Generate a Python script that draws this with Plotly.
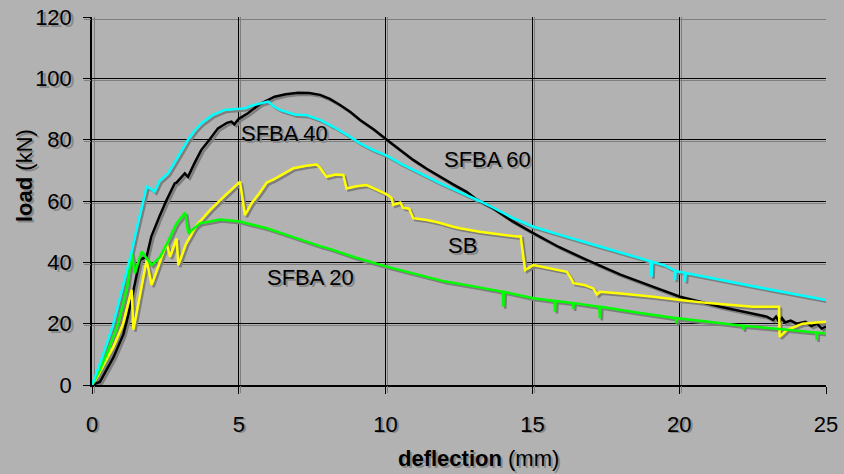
import plotly.graph_objects as go

# ---------------- data ----------------
sfba40_x = [0, 0.27, 0.73, 1.0, 1.35, 1.5, 1.7, 1.86, 2.0, 2.13, 2.3, 2.59, 2.9, 3.27, 3.5, 3.72, 4.1, 4.52,
            4.8, 5.2, 5.5, 6.0, 6.2, 6.4, 6.9, 7.31, 7.8, 8.22, 8.7, 9.13, 9.6, 10.04, 10.5, 10.94, 11.4,
            11.85, 12.3, 12.76, 13.2, 13.67, 14.3, 15.03, 15.5, 16.0, 17.0, 18.0, 19.0, 19.06, 19.08, 19.5,
            19.84, 19.86, 19.88, 20.18, 20.2, 20.22, 21.0, 22.0, 23.0, 24.0, 25.0]
sfba40_y = [0, 7, 20, 30, 43.5, 50, 58, 64.7, 64, 63, 66.5, 69, 74, 80, 83, 85.3, 88, 89.7,
            89.9, 90.2, 91.3, 92.4, 90.8, 89.7, 88.2, 88, 86.3, 84.2, 81.5, 78.8, 76.5, 74.8, 72.3, 70.1, 68,
            65.8, 63.9, 62, 60, 57.8, 54.6, 51.6, 50.2, 48.8, 46, 43.2, 40.4, 35.3, 40.2, 39.0,
            37.4, 34.2, 37.2, 36.6, 33.7, 36.5, 35.0, 33.2, 31.3, 29.5, 27.7]

sfba60_x = [0, 0.27, 0.73, 1.07, 1.24, 1.41, 1.63, 1.86, 2.02, 2.3, 2.54, 2.82, 2.88, 3.16, 3.27, 3.5,
            3.72, 4.0, 4.29, 4.6, 4.75, 4.85, 5.0, 5.31, 5.7, 6.22, 6.6, 7.02, 7.4, 7.77, 8.1, 8.45, 8.8,
            9.13, 9.6, 10.04, 10.5, 10.94, 11.4, 11.85, 12.3, 12.76, 13.1, 13.67, 14.3, 15.03, 15.9, 16.85,
            18.0, 19.12, 20.03, 21.4, 22.5, 22.98, 23.2, 23.3, 23.4, 23.5, 23.6, 23.8, 24.0, 24.3, 24.5,
            24.7, 24.85, 25.0]
sfba60_y = [0, 1, 9, 16.5, 23, 31, 40.8, 41.8, 48.4, 55, 60.3, 65.8, 66, 69, 67.9, 72.5,
            76.6, 80, 83.7, 85.5, 85.9, 85, 86.8, 88.6, 91.5, 94, 94.8, 95.3, 95.2, 94.6, 93.3, 91.3, 89,
            86.4, 83.3, 80, 76.5, 73.4, 70.5, 67.9, 65.4, 63, 60.5, 57.6, 53.5, 49.5, 45, 40.8,
            36, 32, 28.8, 25.5, 23.3, 22.3, 21.2, 22.3, 20.6, 21.8, 20.4, 21.0, 20.0, 20.6, 19.2,
            20.0, 18.4, 19.0]

sb_x = [0, 0.2, 0.45, 0.73, 1.06, 1.2, 1.35, 1.41, 1.6, 1.86, 2.03, 2.3, 2.54, 2.66, 2.88, 2.94, 3.2, 3.57,
        4.02, 4.5, 5.04, 5.21, 5.43, 5.7, 5.95, 6.22, 6.86, 7.3, 7.65, 7.75, 7.99, 8.3, 8.56, 8.67, 9.0,
        9.35, 9.7, 10.04, 10.2, 10.26, 10.5, 10.6, 10.8, 10.94, 11.4, 11.8, 12.3, 12.53, 13.2, 13.8, 14.47,
        14.6, 14.75, 15.03, 15.5, 16.17, 16.3, 16.4, 16.8, 17.07, 17.2, 17.3, 18.0, 19.12, 20.03, 21.0,
        22.5, 23.4, 23.42, 23.66, 24.2, 25.0]
sb_y = [0, 3, 7.5, 12.5, 20, 25, 31, 18, 28, 40.8, 32.6, 40, 46.2, 41.8, 47.8, 39.1, 46, 52.2,
        57, 61.5, 66.3, 55.4, 59.2, 62.5, 66, 67.2, 70.7, 71.5, 71.9, 71, 67.9, 68.6, 68.5, 64.1, 64.8,
        65.2, 63.8, 62.2, 61, 58.7, 59.5, 57.8, 57.5, 54.4, 53.8, 53, 51.6, 51.1, 50, 49.3, 48.4,
        48.5, 37.5, 39.1, 38.2, 36.9, 35, 33.2, 32.5, 31.5, 29.5, 30.4, 29.8, 28.8, 27.7, 26.7,
        25.5, 25.5, 15.7, 17.9, 20, 20.6]

sfba20_x = [0, 0.27, 0.5, 0.89, 1.2, 1.35, 1.46, 1.69, 2.03, 2.32, 2.6, 2.88, 3.17, 3.28, 3.68, 4.36, 5.04,
            5.5, 5.95, 6.4, 6.97, 7.77, 8.1, 9.0, 10.04, 11.17, 12.0, 13.1, 13.99, 14.01, 14.03, 15.03,
            15.75, 15.77, 15.79, 16.37, 16.39, 16.41, 17.28, 17.3, 17.32, 18.5, 19.88, 19.9, 19.92,
            21.0, 22.16, 22.18, 22.2, 23.5, 24.66, 24.68, 24.7, 25.0]
sfba20_y = [0, 5, 10, 20, 32, 42.9, 36.4, 43.5, 39.1, 41.8, 47, 52.7, 56.2, 49.5, 52.7, 54, 53.3,
            52.3, 51.1, 49.7, 47.8, 45.3, 44.4, 41.5, 38.6, 35.7, 33.8, 32, 30.4, 25.5, 30.4, 28.3,
            27.4, 23.9, 27.4, 26.7, 24.8, 26.7, 25.5, 21.7, 25.5, 23.7, 21.8, 20.1, 21.8,
            20.6, 19.3, 18.0, 19.3, 18.2, 17.1, 14.7, 17.1, 16.8]

series_names = ["SFBA 60", "SB", "SFBA 20", "SFBA 40"]
series_x = [sfba60_x, sb_x, sfba20_x, sfba40_x]
series_y = [sfba60_y, sb_y, sfba20_y, sfba40_y]
series_colors = ["#000000", "#FFFF00", "#00FF00", "#00FFFF"]

label_x = [13.47, 12.62, 7.43, 6.57]
label_y = [73.6, 45.4, 35.0, 82.0]

x_ticks = [0, 5, 10, 15, 20, 25]
y_ticks = [0, 20, 40, 60, 80, 100, 120]

# ---------------- layout geometry ----------------
W, H = 844, 474
ML, MR, MT, MB = 92, 18, 17, 89
XR = [0, 25]
YR = [0, 120]
pw = W - ML - MR
ph = H - MT - MB
sh = 2  # shadow offset px
dx = sh * (XR[1] - XR[0]) / pw
dy = sh * (YR[1] - YR[0]) / ph

BG = "#B2B2B2"
SHADOW = "#7E7E7E"
TXTSH = "#888888"
FONT = "Liberation Sans, Arial, sans-serif"
FS = 22

fig = go.Figure()

# shadows on base axes (drawn beneath)
for xs, ys in zip(series_x, series_y):
    fig.add_trace(go.Scatter(x=xs, y=ys, mode="lines", xaxis="x", yaxis="y",
                             line=dict(color=SHADOW, width=2.5), hoverinfo="skip",
                             showlegend=False))
# real lines on overlay axes
for name, xs, ys, c in zip(series_names, series_x, series_y, series_colors):
    fig.add_trace(go.Scatter(x=xs, y=ys, mode="lines", name=name, xaxis="x2", yaxis="y2",
                             line=dict(color=c, width=2.5), showlegend=False))

annotations = []
def add_text(text, x, y, xref, yref, angle=0):
    for col, xs, ys in ((TXTSH, sh, -sh), ("#000000", 0, 0)):
        annotations.append(dict(x=x, y=y, xref=xref, yref=yref, text=text, showarrow=False,
                                textangle=angle, xshift=xs, yshift=ys,
                                font=dict(family=FONT, size=FS, color=col),
                                xanchor="center", yanchor="middle"))

for name, lx, ly in zip(series_names, label_x, label_y):
    add_text(name, lx, ly, "x2", "y2")
add_text("<b>deflection</b> (mm)", (478 - ML) / pw, (MT + ph - 458) / ph, "paper", "paper")
add_text("<b>load</b> (kN)", (24 - ML) / pw, (MT + ph - 176) / ph, "paper", "paper", angle=-90)

fig.update_layout(
    width=W, height=H,
    margin=dict(l=ML, r=MR, t=MT, b=MB, pad=0, autoexpand=False),
    paper_bgcolor=BG, plot_bgcolor=BG,
    showlegend=False,
    xaxis=dict(range=[XR[0] - dx, XR[1] - dx], tickvals=x_ticks, showticklabels=True,
               tickfont=dict(family=FONT, size=FS, color=TXTSH), ticklabelstandoff=12 + sh,
               showgrid=True, gridcolor=SHADOW, gridwidth=1, zeroline=False, automargin=False,
               ticks="outside", ticklen=7, tickcolor=SHADOW, showline=False, fixedrange=True),
    yaxis=dict(range=[YR[0] + dy, YR[1] + dy], tickvals=y_ticks, showticklabels=True,
               tickfont=dict(family=FONT, size=FS, color=TXTSH), ticklabelstandoff=7 - sh,
               showgrid=True, gridcolor=SHADOW, gridwidth=1, zeroline=False, automargin=False,
               ticks="outside", ticklen=7, tickcolor=SHADOW, showline=False, fixedrange=True),
    xaxis2=dict(range=XR, tickvals=x_ticks, overlaying="x", anchor="y2", side="bottom",
                showgrid=True, gridcolor="#000000", gridwidth=1, zeroline=False, automargin=False,
                ticks="outside", ticklen=7, tickcolor="#000000",
                showline=True, linecolor="#000000", linewidth=1.5,
                tickfont=dict(family=FONT, size=FS, color="#000000"),
                ticklabelstandoff=12, fixedrange=True),
    yaxis2=dict(range=YR, tickvals=y_ticks, overlaying="y", anchor="x2", side="left",
                showgrid=True, gridcolor="#000000", gridwidth=1, zeroline=False, automargin=False,
                ticks="outside", ticklen=7, tickcolor="#000000",
                showline=True, linecolor="#000000", linewidth=1.5,
                tickfont=dict(family=FONT, size=FS, color="#000000"),
                ticklabelstandoff=7, fixedrange=True),
    annotations=annotations,
)

fig.write_html("out.html")
